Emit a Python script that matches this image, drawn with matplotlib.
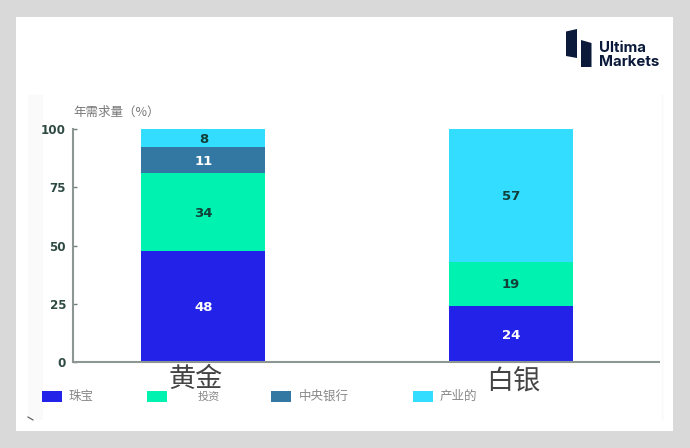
import matplotlib
matplotlib.use('Agg')
import matplotlib.pyplot as plt
from matplotlib.lines import Line2D
from matplotlib.patches import Polygon, Rectangle

plt.rcParams['font.family'] = ['Noto Sans CJK SC', 'DejaVu Sans']

W, H = 690, 448

metals = ['黄金', '白银']
series = ['珠宝', '投资', '中央银行', '产业的']
jewelry = [48, 24]
investment = [34, 19]
central_banks = [11, 0]
industrial = [8, 57]
colors = ['#2222e8', '#00f2b0', '#3377a3', '#33ddff']
label_colors = ['white', '#123f38', 'white', '#123f38']
yticks = [0, 25, 50, 75, 100]
ylabel = '年需求量（%）'


def fx(x):
	return x / W


def fy(y):
	return 1 - y / H


def fig_rect(x0, y0, x1, y1, color, zorder=-1):
	fig.add_artist(Rectangle((fx(x0), fy(y1)), (x1 - x0) / W, (y1 - y0) / H,
		transform=fig.transFigure, facecolor=color, edgecolor='none', zorder=zorder))


def fig_poly(points, color):
	fig.add_artist(Polygon([(fx(x), fy(y)) for x, y in points],
		transform=fig.transFigure, facecolor=color, edgecolor='none'))


fig = plt.figure(figsize=(W / 100, H / 100), dpi=100, facecolor='#d9d9d9')
fig_rect(16, 17, 673, 431, 'white')
fig_rect(28, 95, 43, 420, '#fafafa')
fig_rect(661, 95, 664, 420, '#fbfbfb')

ax = fig.add_axes([fx(73), fy(362), (659 - 73) / W, (362 - 129) / H])
ax.patch.set_alpha(0)

# shares are stacked to 100 %, the gold labels add up to 101
stacks = [jewelry, investment, central_banks, industrial]
totals = [sum(s[i] for s in stacks) for i in range(2)]
bottom = [0, 0]
for values, name, color, text_color in zip(stacks, series, colors, label_colors):
	shares = [v / t * 100 for v, t in zip(values, totals)]
	ax.bar([0, 1], shares, width=0.403, bottom=bottom, color=color, label=name)
	for i, v in enumerate(values):
		if v > 0:
			ax.annotate(str(v), (i, bottom[i] + shares[i] / 2), xytext=(0, -1),
				textcoords='offset pixels', ha='center', va='center',
				fontsize=9.5, fontweight='bold', color=text_color, family='DejaVu Sans')
	bottom = [b + s for b, s in zip(bottom, shares)]

ax.set_xlim(-0.424, 1.481)
ax.set_ylim(0, 100)
ax.set_yticks(yticks)
ax.set_xticks([0, 1])
ax.set_xticklabels([])
ax.tick_params(axis='x', length=0)
ax.tick_params(axis='y', direction='in', length=3, width=1, color='#6f7f7a', pad=5,
	labelcolor='#2f4a43')
for label in ax.get_yticklabels():
	label.set_family('DejaVu Sans')
	label.set_fontweight('bold')
	label.set_fontsize(8.6)
for side in ['top', 'right']:
	ax.spines[side].set_visible(False)
for side in ['left', 'bottom']:
	ax.spines[side].set_color('#8c9794')
	ax.spines[side].set_linewidth(1.5)

# category names sit off-centre under the bars
label_shift = [(-8, -17), (2, -20)]
for i, name in enumerate(metals):
	ax.annotate(name, (i, 0), xytext=label_shift[i], textcoords='offset pixels',
		ha='center', va='center', fontsize=19.5, color='#444444', annotation_clip=False)

fig.text(fx(73), fy(112), ylabel, fontsize=9, color='#777777', va='center')

# legend
legend_boxes = [42, 147, 271, 413]
legend_text = [68, 198, 299, 440]
legend_sizes = [9, 8, 9, 9]
for x, tx, name, color, size in zip(legend_boxes, legend_text, series, colors, legend_sizes):
	fig_rect(x, 391, x + 20, 402, color, zorder=1)
	fig.text(fx(tx), fy(396.5), name, fontsize=size, color='#888888', va='center')

fig.add_artist(Line2D([fx(28), fx(33)], [fy(417), fy(420)], color='#555555', linewidth=0.8))

# logo
fig_poly([(566, 31.5), (577, 29), (577, 58), (566, 56)], '#0b1a3a')
fig_poly([(581, 40), (591.5, 43), (591.5, 67), (581, 67)], '#0b1a3a')
fig.text(fx(599), fy(48), 'Ultima', fontsize=10.8, fontweight='bold', color='#0b1a3a',
	family='Inter', va='center')
logo_text = fig.text(fx(599), fy(62.5), 'Markets', fontsize=10.8, fontweight='bold',
	color='#0b1a3a', family='Inter', va='center')
logo_text.set_clip_path(Rectangle((595, H - 67), 80, 20, transform=None))

fig.savefig('out.png', dpi=100, facecolor=fig.get_facecolor())
